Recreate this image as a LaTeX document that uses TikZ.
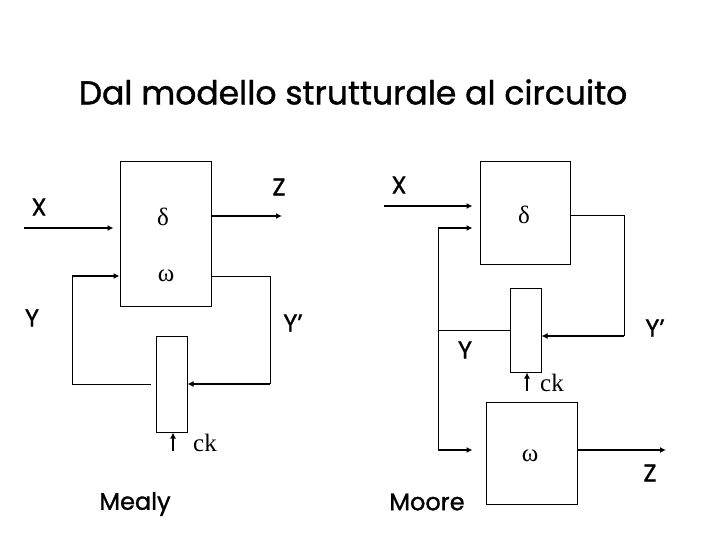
\documentclass[tikz,border=0pt]{standalone}
\usepackage{fontspec}
\setmainfont{Poppins}[BoldFont=Poppins,BoldFeatures={FakeBold=1.2}]
\newfontfamily\serifgr{Liberation Serif}
\usetikzlibrary{arrows.meta}
\begin{document}
\begin{tikzpicture}[x=1pt,y=-1pt,
  blk/.style={draw,line width=1pt,inner sep=0pt},
  thinl/.style={line width=1pt},
  arr/.style={line width=2pt,-{Latex[length=6pt,width=6pt]}},
  lab/.style={font=\bfseries\fontsize{24}{28}\selectfont,inner sep=0pt},
  grk/.style={font=\serifgr\fontsize{25}{28}\selectfont,inner sep=0pt}]
\useasboundingbox (0,0) rectangle (720,540);
\node[font=\bfseries\fontsize{33}{38}\selectfont] (title) at (353,92) {Dal modello strutturale al circuito};

% Mealy
\node[blk,minimum width=91pt,minimum height=144pt] (m) at (165.5,234) {};
\node[blk,minimum width=31pt,minimum height=96pt] (r1) at (171.5,384) {};
\node[grk] (md) at (163,217) {δ};
\node[grk] (mw) at (166,276) {ω};
\coordinate (mx) at (24,228);
\draw[arr,shorten >=6pt] (mx) -- (mx -| m.west);
\coordinate (mz) at (282,216);
\draw[arr] (mz -| m.east) -- (mz);
\coordinate (myl) at (72,276);
\draw[arr] (myl) -- (myl -| m.west);
\draw[thinl,shorten >=5pt] (myl) |- (r1.west);
\coordinate (myr) at (270,276);
\draw[thinl] (myr -| m.east) -- (myr) -- (myr |- r1.east);
\draw[arr] (myr |- r1.east) -- (r1.east);
\coordinate (mck) at (173,451);
\draw[arr] (mck) -- (mck |- r1.south);
\node[lab] (mX) at (39,207) {X};
\node[lab] (mZ) at (279,187) {Z};
\node[lab] (mY) at (32,318) {Y};
\node[lab] (mYp) at (293,323) {Y’};
\node[grk] (mckl) at (205,443) {ck};
\node[lab] (mealy) at (135,504) {Mealy};

% Moore
\node[blk,minimum width=90pt,minimum height=102pt] (d) at (525,213) {};
\node[blk,minimum width=31pt,minimum height=84pt] (r2) at (525.5,330) {};
\node[blk,minimum width=91pt,minimum height=102pt] (w) at (531.5,453) {};
\node[grk] (od) at (524,215) {δ};
\node[grk] (ow) at (530,456) {ω};
\coordinate (ox) at (384,206);
\draw[arr,shorten >=7pt] (ox) -- (ox -| d.west);
\coordinate (oyt) at (438,228);
\coordinate (oyb) at (438,450);
\draw[arr,shorten >=7pt] (oyt) -- (oyt -| d.west);
\draw[thinl] (oyt) -- (oyb);
\draw[arr,shorten >=13pt] (oyb) -- (oyb -| w.west);
\draw[thinl] (r2.west) -- (r2.west -| oyt);
\coordinate (odr) at (624,216);
\coordinate (ory) at (624,336);
\draw[thinl] (odr -| d.east) -- (odr) -- (ory);
\draw[arr] (ory) -- (ory -| r2.east);
\coordinate (ock) at (527,391);
\draw[arr] (ock) -- (ock |- r2.south);
\coordinate (oz) at (666,450);
\draw[arr] (oz -| w.east) -- (oz);
\node[lab] (oX) at (399,185) {X};
\node[lab] (oY) at (465,350) {Y};
\node[lab] (oYp) at (655,328) {Y’};
\node[lab] (oZ) at (650,473) {Z};
\node[grk] (ockl) at (552,383) {ck};
\node[lab] (moore) at (427,502) {Moore};
\end{tikzpicture}
\end{document}
